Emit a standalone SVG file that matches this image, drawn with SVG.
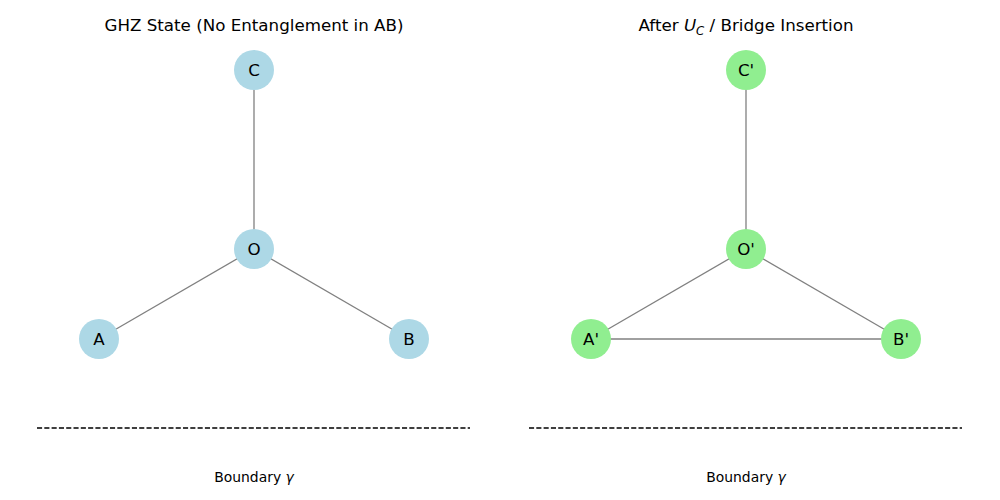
<svg xmlns="http://www.w3.org/2000/svg" width="1000" height="500" viewBox="0 0 1000 500">
<style>
.t{font-family:"DejaVu Sans",sans-serif;font-size:16.7px;fill:#000;text-anchor:middle}
.lbl{font-family:"DejaVu Sans",sans-serif;font-size:16.7px;fill:#000;text-anchor:middle;dominant-baseline:central}
.b{font-family:"DejaVu Sans",sans-serif;font-size:13.9px;fill:#000;text-anchor:middle}
.e{stroke:#808080;stroke-width:1.3;fill:none}
.d{stroke:#000;stroke-width:1.3;stroke-dasharray:5.1,2.2}
.n1{fill:#ADD8E6}
.n2{fill:#90EE90}
</style>
<rect width="1000" height="500" fill="#fff"/>
<text class="t" x="254" y="31">GHZ State (No Entanglement in AB)</text>
<text class="t" x="746" y="31">After <tspan font-style="italic">U</tspan><tspan font-style="italic" font-size="11.7px" dy="4">C</tspan><tspan dy="-4"> / Bridge Insertion</tspan></text>
<g id="connectors">
<line class="e" x1="254" y1="70" x2="254" y2="249"/>
<line class="e" x1="254" y1="249" x2="99" y2="339"/>
<line class="e" x1="254" y1="249" x2="409" y2="339"/>
<line class="e" x1="746" y1="70" x2="746" y2="249"/>
<line class="e" x1="746" y1="249" x2="591" y2="339"/>
<line class="e" x1="746" y1="249" x2="901" y2="339"/>
<line class="e" x1="591" y1="339" x2="901" y2="339"/>
</g>
<g id="C"><circle class="n1" cx="254" cy="70" r="20"/><text class="lbl" x="254" y="70">C</text></g>
<g id="O"><circle class="n1" cx="254" cy="249" r="20"/><text class="lbl" x="254" y="249">O</text></g>
<g id="A"><circle class="n1" cx="99" cy="339" r="20"/><text class="lbl" x="99" y="339">A</text></g>
<g id="B"><circle class="n1" cx="409" cy="339" r="20"/><text class="lbl" x="409" y="339">B</text></g>
<g id="Cp"><circle class="n2" cx="746" cy="70" r="20"/><text class="lbl" x="746" y="70">C'</text></g>
<g id="Op"><circle class="n2" cx="746" cy="249" r="20"/><text class="lbl" x="746" y="249">O'</text></g>
<g id="Ap"><circle class="n2" cx="591" cy="339" r="20"/><text class="lbl" x="591" y="339">A'</text></g>
<g id="Bp"><circle class="n2" cx="901" cy="339" r="20"/><text class="lbl" x="901" y="339">B'</text></g>
<line class="d" x1="37" y1="428" x2="470" y2="428"/>
<line class="d" x1="529" y1="428" x2="962" y2="428"/>
<text class="b" x="254" y="482">Boundary <tspan font-style="italic">γ</tspan></text>
<text class="b" x="746" y="482">Boundary <tspan font-style="italic">γ</tspan></text>
</svg>
